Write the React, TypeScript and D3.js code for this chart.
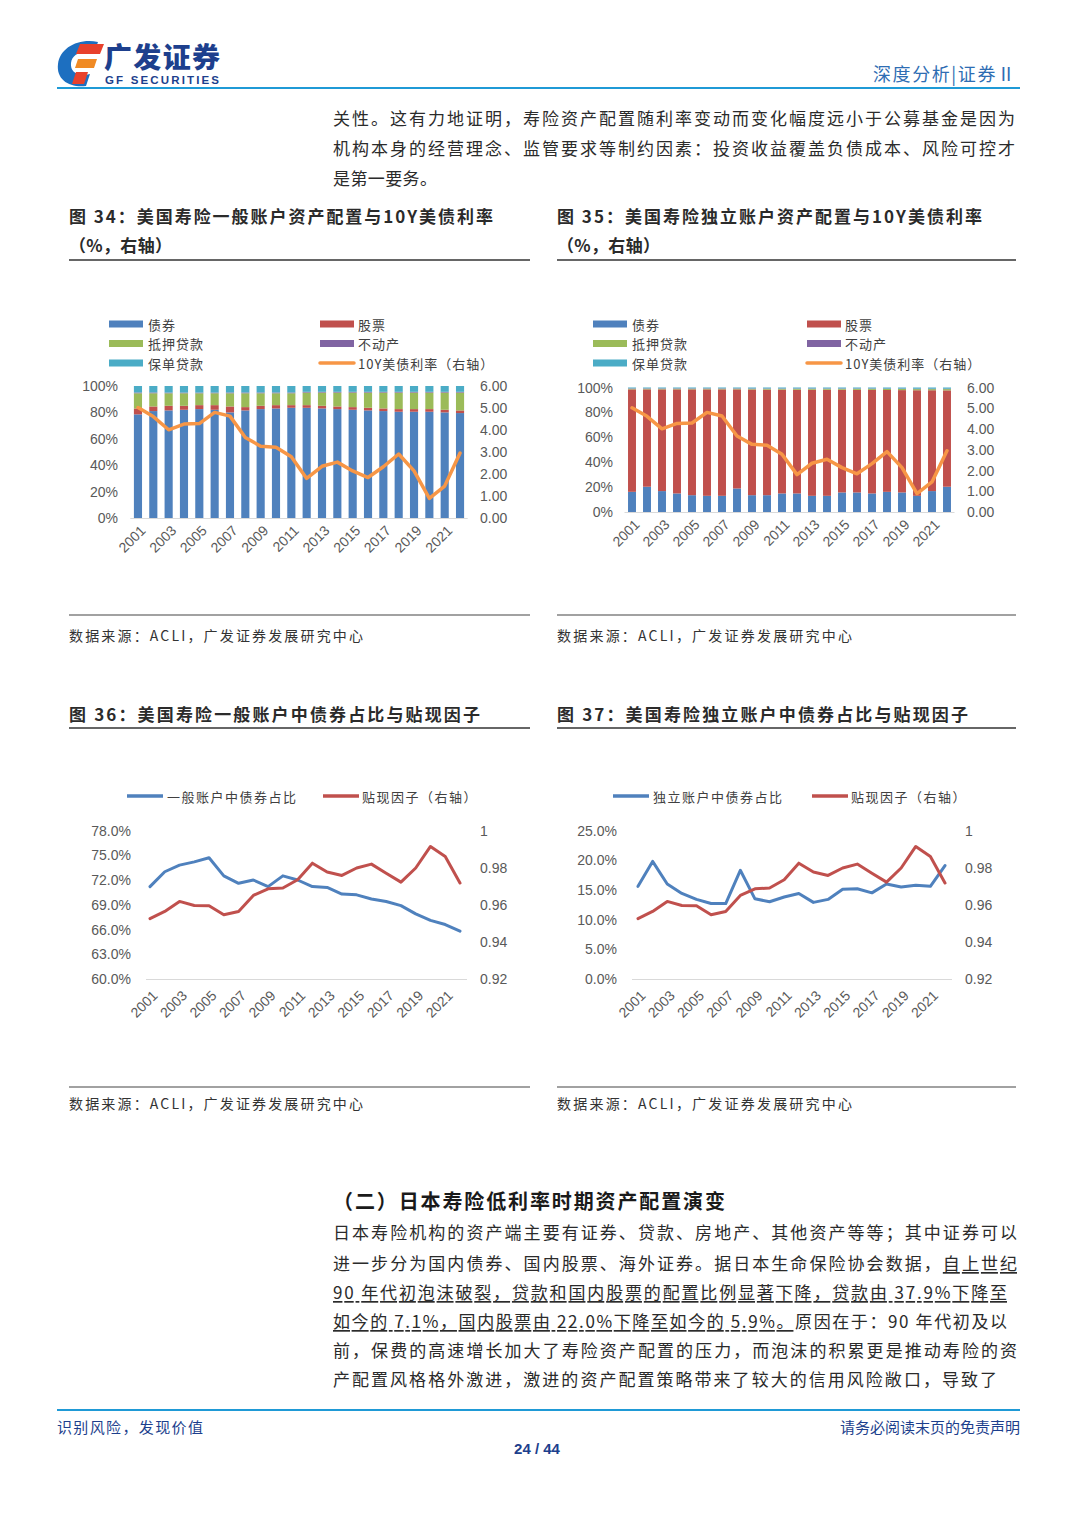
import React from 'react';
import * as d3 from 'd3';

const years = ['2001','2002','2003','2004','2005','2006','2007','2008','2009','2010','2011','2012','2013','2014','2015','2016','2017','2018','2019','2020','2021','2022'];
const yearTicks = ['2001','2003','2005','2007','2009','2011','2013','2015','2017','2019','2021'];

// Fig 34: general account allocation (%)
const gaBonds = [78.5, 81.0, 81.5, 82.0, 82.5, 82.0, 80.0, 81.5, 82.5, 83.0, 83.5, 83.5, 83.0, 82.5, 82.0, 81.5, 81.0, 80.5, 80.5, 80.5, 80.0, 79.5];
const gaStocks = [4.5, 3.5, 3.5, 3.0, 3.0, 3.5, 4.5, 2.5, 2.5, 2.5, 2.0, 2.0, 2.0, 2.0, 2.0, 2.0, 2.0, 2.0, 2.0, 2.0, 2.0, 2.0];
const gaMortgage = [11.5, 10.0, 9.5, 9.5, 9.0, 9.0, 10.0, 10.5, 9.5, 9.0, 9.0, 9.5, 10.0, 10.5, 11.0, 11.5, 12.0, 12.5, 12.5, 12.5, 13.0, 13.5];
const gaRealEstate = [0.6, 0.6, 0.5, 0.5, 0.5, 0.5, 0.6, 0.6, 0.6, 0.6, 0.6, 0.6, 0.6, 0.6, 0.6, 0.6, 0.6, 0.6, 0.6, 0.6, 0.6, 0.6];
const gaPolicyLoans = [4.9, 4.9, 5.0, 5.0, 5.0, 5.0, 4.9, 4.9, 4.9, 4.9, 4.9, 4.4, 4.4, 4.4, 4.4, 4.4, 4.4, 4.4, 4.4, 4.4, 4.4, 4.4];

// Fig 35: separate account allocation (%)
const saBonds = [16.2, 20.3, 16.8, 14.9, 13.5, 13.0, 13.0, 18.9, 13.5, 13.5, 14.9, 14.9, 13.0, 13.0, 15.7, 15.7, 14.9, 16.2, 15.7, 13.0, 16.8, 20.3];
const saStocks = [82.3, 78.2, 81.7, 83.6, 85.0, 85.5, 85.5, 79.6, 84.9, 84.8, 83.4, 83.3, 85.2, 85.2, 82.5, 82.4, 83.2, 81.8, 82.2, 84.8, 81.0, 77.4];
const saMortgage = [0.5, 0.5, 0.5, 0.5, 0.5, 0.5, 0.5, 0.5, 0.5, 0.6, 0.6, 0.7, 0.7, 0.7, 0.7, 0.8, 0.8, 0.8, 0.9, 0.9, 0.9, 1.0];
const saRealEstate = [0.3, 0.3, 0.3, 0.3, 0.3, 0.3, 0.3, 0.3, 0.3, 0.3, 0.3, 0.3, 0.3, 0.3, 0.3, 0.3, 0.3, 0.3, 0.3, 0.3, 0.3, 0.3];
const saPolicyLoans = [0.7, 0.7, 0.7, 0.7, 0.7, 0.7, 0.7, 0.7, 0.8, 0.8, 0.8, 0.8, 0.8, 0.8, 0.8, 0.8, 0.8, 0.9, 0.9, 1.0, 1.0, 1.0];

// 10Y UST yield (right axis)
const rate10y = [5.02, 4.61, 4.01, 4.27, 4.29, 4.80, 4.63, 3.66, 3.26, 3.22, 2.78, 1.80, 2.35, 2.54, 2.14, 1.84, 2.33, 2.91, 2.14, 0.89, 1.45, 2.95];

// Fig 36/37
const gaBondShare = [71.2, 73.0, 73.8, 74.2, 74.7, 72.5, 71.6, 72.0, 71.2, 72.5, 72.0, 71.2, 71.1, 70.3, 70.2, 69.7, 69.4, 68.9, 67.9, 67.1, 66.6, 65.8];
const saBondShare = [15.6, 19.8, 16.0, 14.4, 13.4, 12.7, 12.7, 18.3, 13.5, 13.0, 13.8, 14.4, 12.9, 13.4, 15.1, 15.2, 14.5, 16.0, 15.5, 15.8, 15.6, 19.1];
const discountFactor = [0.9525, 0.9564, 0.9618, 0.9596, 0.9595, 0.9546, 0.9564, 0.9650, 0.9686, 0.9690, 0.9735, 0.9824, 0.9776, 0.9758, 0.9798, 0.9819, 0.9770, 0.9722, 0.9798, 0.9914, 0.9860, 0.9717];

const stackKeys = ['bonds', 'stocks', 'mortgage', 'realEstate', 'policyLoans'];
const stackLegend = ['债券', '股票', '抵押贷款', '不动产', '保单贷款', '10Y美债利率（右轴）'];
const pctTicks36 = [0.60, 0.63, 0.66, 0.69, 0.72, 0.75, 0.78];
const pctTicks37 = [0, 0.05, 0.10, 0.15, 0.20, 0.25];
const dfTicks = [0.92, 0.94, 0.96, 0.98, 1];

const C = { blue: '#4F81BD', red: '#C0504D', green: '#9BBB59', purple: '#8064A2', teal: '#4BACC6', orange: '#F79646' };
const stackColors = [C.blue, C.red, C.green, C.purple, C.teal];
const CJK = "'Noto Sans CJK SC', 'Noto Sans', sans-serif";
const NUM = "'Liberation Sans', Arial, sans-serif";
const AXC = '#595959';

function StackedChart(p: any) {
  const rows = years.map((yr, i) => ({ year: yr, bonds: p.bonds[i], stocks: p.stocks[i], mortgage: p.mortgage[i], realEstate: p.realEstate[i], policyLoans: p.policyLoans[i] }));
  const series = d3.stack().keys(stackKeys).offset(d3.stackOffsetExpand)(rows as any);
  const x = d3.scaleBand().domain(years).range([p.left, p.right]).paddingInner(0.47).paddingOuter(0.235);
  const y = d3.scaleLinear().domain([0, 1]).range([p.bottom, p.top]);
  const yR = d3.scaleLinear().domain([0, 6]).range([p.bottom, p.top]);
  const cx = (yr: string) => (x(yr) as number) + x.bandwidth() / 2;
  const line = d3.line<number>().x((_, i) => cx(years[i])).y((d) => yR(d));
  const legendRows = [p.legendY, p.legendY + 19.5, p.legendY + 39];
  return (
    <g>
      {legendRows.map((ly, r) => (
        <g key={r}>
          <rect x={p.lx1} y={ly - 3.5} width={34} height={7} fill={stackColors[r * 2]} />
          <text x={p.lx1 + 39} y={ly} dominantBaseline="central" fontFamily={CJK} fontSize={13} letterSpacing={1} fill="#404040">{stackLegend[r * 2]}</text>
          {r < 2 ? (
            <rect x={p.lx2} y={ly - 3.5} width={34} height={7} fill={stackColors[r * 2 + 1]} />
          ) : (
            <line x1={p.lx2} x2={p.lx2 + 34} y1={ly} y2={ly} stroke={C.orange} strokeWidth={3.5} strokeLinecap="round" />
          )}
          <text x={p.lx2 + 38} y={ly} dominantBaseline="central" fontFamily={CJK} fontSize={13} letterSpacing={1} fill="#404040">{stackLegend[r * 2 + 1]}</text>
        </g>
      ))}
      {series.map((s, si) => (
        <g key={si} fill={stackColors[si]}>
          {s.map((d, i) => (
            <rect key={i} x={x(years[i])} y={y(d[1])} width={x.bandwidth()} height={Math.max(0, y(d[0]) - y(d[1]))} />
          ))}
        </g>
      ))}
      <line x1={p.left} x2={p.right} y1={p.bottom + 0.5} y2={p.bottom + 0.5} stroke="#d9d9d9" />
      <path d={line(rate10y) || ''} fill="none" stroke={C.orange} strokeWidth={3.5} strokeLinejoin="round" strokeLinecap="round" />
      {y.ticks(5).map((t) => (
        <text key={'l' + t} x={p.leftLabelX} y={y(t)} textAnchor="end" dominantBaseline="central" fontFamily={NUM} fontSize={14} fill={AXC}>{d3.format('.0%')(t)}</text>
      ))}
      {yR.ticks(6).map((t) => (
        <text key={'r' + t} x={p.rightLabelX} y={yR(t)} dominantBaseline="central" fontFamily={NUM} fontSize={14} fill={AXC}>{d3.format('.2f')(t)}</text>
      ))}
      {yearTicks.map((yr) => (
        <text key={yr} transform={`translate(${cx(yr) + 5},${p.bottom + 10}) rotate(-45)`} textAnchor="end" dominantBaseline="central" fontFamily={NUM} fontSize={14} fill={AXC}>{yr}</text>
      ))}
    </g>
  );
}

function LineChart(p: any) {
  const x = d3.scalePoint().domain(years).range([p.left, p.right]);
  const y = d3.scaleLinear().domain(p.leftDomain).range([p.bottom, p.top]);
  const yR = d3.scaleLinear().domain([0.92, 1]).range([p.bottom, p.top]);
  const lineL = d3.line<number>().x((_, i) => x(years[i]) as number).y((d) => y(d / 100));
  const lineR = d3.line<number>().x((_, i) => x(years[i]) as number).y((d) => yR(d));
  return (
    <g>
      <line x1={p.lx1} x2={p.lx1 + 36} y1={p.legendY} y2={p.legendY} stroke={C.blue} strokeWidth={3.5} />
      <text x={p.lx1 + 40} y={p.legendY} dominantBaseline="central" fontFamily={CJK} fontSize={13} letterSpacing={1.5} fill="#404040">{p.leftName}</text>
      <line x1={p.lx2} x2={p.lx2 + 36} y1={p.legendY} y2={p.legendY} stroke={C.red} strokeWidth={3.5} />
      <text x={p.lx2 + 39} y={p.legendY} dominantBaseline="central" fontFamily={CJK} fontSize={13} letterSpacing={1.5} fill="#404040">贴现因子（右轴）</text>
      <line x1={p.axisLeft} x2={p.axisRight} y1={p.bottom + 0.5} y2={p.bottom + 0.5} stroke="#d9d9d9" />
      <path d={lineL(p.leftData) || ''} fill="none" stroke={C.blue} strokeWidth={3} strokeLinejoin="round" strokeLinecap="round" />
      <path d={lineR(discountFactor) || ''} fill="none" stroke={C.red} strokeWidth={3} strokeLinejoin="round" strokeLinecap="round" />
      {p.leftTicks.map((t: number) => (
        <text key={'l' + t} x={p.leftLabelX} y={y(t)} textAnchor="end" dominantBaseline="central" fontFamily={NUM} fontSize={14} fill={AXC}>{d3.format('.1%')(t)}</text>
      ))}
      {dfTicks.map((t) => (
        <text key={'r' + t} x={p.rightLabelX} y={yR(t)} dominantBaseline="central" fontFamily={NUM} fontSize={14} fill={AXC}>{t === 1 ? '1' : d3.format('.2f')(t)}</text>
      ))}
      {yearTicks.map((yr) => (
        <text key={yr} transform={`translate(${(x(yr) as number) + 5},${p.bottom + 14}) rotate(-45)`} textAnchor="end" dominantBaseline="central" fontFamily={NUM} fontSize={14} fill={AXC}>{yr}</text>
      ))}
    </g>
  );
}

function T(p: any) {
  const { x, y, w, size = 17, bold = false, fill = '#2b2b2b', anchor, children } = p;
  return (
    <text x={x} y={y} dominantBaseline="central" fontFamily={CJK} fontSize={size} fontWeight={bold ? 700 : 400} fill={fill}
      textAnchor={anchor} textLength={w} lengthAdjust={w ? 'spacing' : undefined}>{children}</text>
  );
}

const U = { textDecoration: 'underline' } as any;

export default function App() {
  return (
    <svg width={1080} height={1527} style={{ position: 'absolute', left: 0, top: 0, background: '#fff' }}>
      <rect width={1080} height={1527} fill="#fff" />
      {/* logo */}
      <g>
        <path d="M98,42 C78,38 60,48 58,64 C56,80 70,88 86,86 L90,74 C78,77 70,72 71,63 C72,54 82,50 94,53 Z" fill="#1d6fc0" />
        <path d="M80,44 L104,44 L100,54 L76,54 Z" fill="#e8412c" />
        <path d="M78,59 L97,59 L94,68 L75,68 Z" fill="#f08a24" />
        <path d="M76,72 L88,72 L84,84 L72,84 Z" fill="#e8412c" />
        <text x={104} y={68} fontFamily={CJK} fontWeight={900} fontSize={28} fill="#1d3f8d" textLength={116} lengthAdjust="spacing">广发证券</text>
        <text x={105} y={84} fontFamily={NUM} fontWeight={700} fontSize={11.5} fill="#1d3f8d" textLength={114} lengthAdjust="spacing">GF SECURITIES</text>
      </g>
      <T x={873} y={73} w={142} size={18} fill="#2e6db3">深度分析|证券Ⅱ</T>
      <line x1={57} x2={1020} y1={88} y2={88} stroke="#1f9ad6" strokeWidth={2} />

      <T x={333} y={117} w={682}>关性。这有力地证明，寿险资产配置随利率变动而变化幅度远小于公募基金是因为</T>
      <T x={333} y={147} w={682}>机构本身的经营理念、监管要求等制约因素：投资收益覆盖负债成本、风险可控才</T>
      <T x={333} y={177} w={104}>是第一要务。</T>

      {/* titles */}
      <T x={69} y={215} w={424} bold>图 34：美国寿险一般账户资产配置与10Y美债利率</T>
      <T x={69} y={244} w={103} bold>（%，右轴）</T>
      <line x1={69} x2={530} y1={260} y2={260} stroke="#333" strokeWidth={1.5} />
      <T x={557} y={215} w={425} bold>图 35：美国寿险独立账户资产配置与10Y美债利率</T>
      <T x={557} y={244} w={103} bold>（%，右轴）</T>
      <line x1={557} x2={1016} y1={260} y2={260} stroke="#333" strokeWidth={1.5} />

      <StackedChart bonds={gaBonds} stocks={gaStocks} mortgage={gaMortgage} realEstate={gaRealEstate} policyLoans={gaPolicyLoans}
        left={130.3} right={467.7} top={386} bottom={518} leftLabelX={118} rightLabelX={480} lx1={109} lx2={320} legendY={324} />
      <StackedChart bonds={saBonds} stocks={saStocks} mortgage={saMortgage} realEstate={saRealEstate} policyLoans={saPolicyLoans}
        left={624.5} right={954.5} top={387.5} bottom={512} leftLabelX={613} rightLabelX={967} lx1={593} lx2={807} legendY={324} />

      <line x1={69} x2={530} y1={615} y2={615} stroke="#444" strokeWidth={1.2} />
      <line x1={557} x2={1016} y1={615} y2={615} stroke="#444" strokeWidth={1.2} />
      <T x={69} y={635} w={294} size={14} fill="#333">数据来源：ACLI，广发证券发展研究中心</T>
      <T x={557} y={635} w={295} size={14} fill="#333">数据来源：ACLI，广发证券发展研究中心</T>

      <T x={69} y={713} w={411} bold>图 36：美国寿险一般账户中债券占比与贴现因子</T>
      <line x1={69} x2={530} y1={728} y2={728} stroke="#333" strokeWidth={1.5} />
      <T x={557} y={713} w={411} bold>图 37：美国寿险独立账户中债券占比与贴现因子</T>
      <line x1={557} x2={1016} y1={728} y2={728} stroke="#333" strokeWidth={1.5} />

      <LineChart left={150} right={460} top={830.5} bottom={979} axisLeft={146} axisRight={467} leftDomain={[0.60, 0.78]} leftTicks={pctTicks36}
        leftData={gaBondShare} leftName="一般账户中债券占比" leftLabelX={131} rightLabelX={480} lx1={127} lx2={323} legendY={796} />
      <LineChart left={638} right={945} top={830.5} bottom={979} axisLeft={632} axisRight={952} leftDomain={[0, 0.25]} leftTicks={pctTicks37}
        leftData={saBondShare} leftName="独立账户中债券占比" leftLabelX={617} rightLabelX={965} lx1={613} lx2={812} legendY={796} />

      <line x1={69} x2={530} y1={1087} y2={1087} stroke="#444" strokeWidth={1.2} />
      <line x1={557} x2={1016} y1={1087} y2={1087} stroke="#444" strokeWidth={1.2} />
      <T x={69} y={1103} w={294} size={14} fill="#333">数据来源：ACLI，广发证券发展研究中心</T>
      <T x={557} y={1103} w={295} size={14} fill="#333">数据来源：ACLI，广发证券发展研究中心</T>

      <T x={333} y={1200} w={392} size={20} bold fill="#1a1a1a">（二）日本寿险低利率时期资产配置演变</T>
      <T x={333} y={1231} w={684}>日本寿险机构的资产端主要有证券、贷款、房地产、其他资产等等；其中证券可以</T>
      <text x={333} y={1262} dominantBaseline="central" fontFamily={CJK} fontSize={17} fill="#2b2b2b" textLength={684} lengthAdjust="spacing">
        进一步分为国内债券、国内股票、海外证券。据日本生命保险协会数据，<tspan style={U}>自上世纪</tspan>
      </text>
      <text x={333} y={1291} dominantBaseline="central" fontFamily={CJK} fontSize={17} fill="#2b2b2b" textLength={674} lengthAdjust="spacing">
        <tspan style={U}>90 年代初泡沫破裂，贷款和国内股票的配置比例显著下降，贷款由 37.9%下降至</tspan>
      </text>
      <text x={333} y={1320} dominantBaseline="central" fontFamily={CJK} fontSize={17} fill="#2b2b2b" textLength={674} lengthAdjust="spacing">
        <tspan style={U}>如今的 7.1%，国内股票由 22.0%下降至如今的 5.9%。</tspan>原因在于：90 年代初及以
      </text>
      <T x={333} y={1349} w={684}>前，保费的高速增长加大了寿险资产配置的压力，而泡沫的积累更是推动寿险的资</T>
      <T x={333} y={1378} w={664}>产配置风格格外激进，激进的资产配置策略带来了较大的信用风险敞口，导致了</T>

      <line x1={57} x2={1020} y1={1410} y2={1410} stroke="#1f9ad6" strokeWidth={2} />
      <T x={57} y={1426} w={146} size={15} fill="#1d3f8d">识别风险，发现价值</T>
      <T x={1020} y={1426} size={15} fill="#1d3f8d" anchor="end">请务必阅读末页的免责声明</T>
      <text x={537} y={1448} textAnchor="middle" dominantBaseline="central" fontFamily={NUM} fontWeight={700} fontSize={15} fill="#1d3f8d">24 / 44</text>
    </svg>
  );
}
